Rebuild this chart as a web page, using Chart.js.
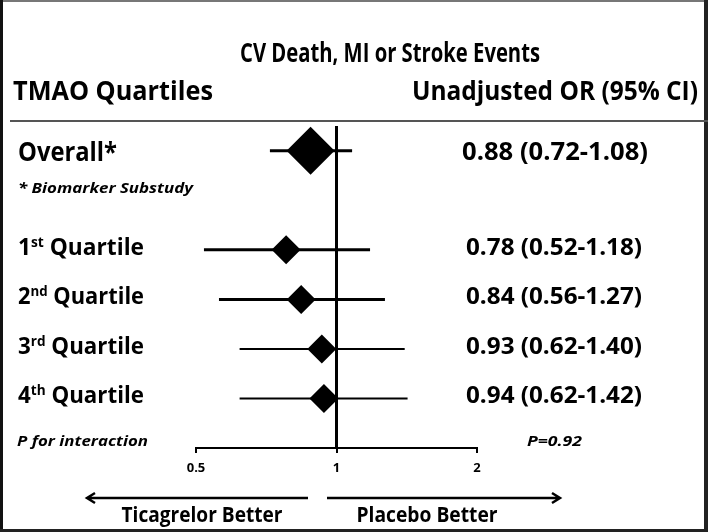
<!DOCTYPE html>
<html>
<head>
<meta charset="utf-8">
<script src="https://cdn.jsdelivr.net/npm/chart.js@4.4.1/dist/chart.umd.min.js"></script>
<style>
  html, body { margin: 0; padding: 0; background: #fff; }
  canvas { display: block; }
</style>
</head>
<body>
<canvas id="forestChart" width="708" height="532"></canvas>
<script>
// values
const rowLabels = ['Overall*', '1st Quartile', '2nd Quartile', '3rd Quartile', '4th Quartile'];
const rowPos = [0, 2, 3, 4, 5];
const oddsRatio = [0.88, 0.78, 0.84, 0.93, 0.94];
const ciLow = [0.72, 0.52, 0.56, 0.62, 0.62];
const ciHigh = [1.08, 1.18, 1.27, 1.40, 1.42];
const xTicks = [0.5, 1, 2];
const pValue = 'P=0.92';

const FONT = '"Open Sans", sans-serif';

// CI whiskers, one small line dataset per row
const ciSets = rowPos.map((y, i) => ({
  data: [{ x: ciLow[i], y: y }, { x: ciHigh[i], y: y }],
  showLine: true,
  borderColor: '#000',
  borderWidth: i < 3 ? 3 : 2,
  pointRadius: 0,
  order: 2
}));

const refLine = {
  data: [{ x: 1, y: -0.5 }, { x: 1, y: 6 }],
  showLine: true,
  borderColor: '#000',
  borderWidth: 3,
  pointRadius: 0,
  order: 3
};

const diamonds = {
  data: rowPos.map((y, i) => ({ x: oddsRatio[i], y: y })),
  pointStyle: 'rectRot',
  pointRadius: rowPos.map((y, i) => i === 0 ? 24 : 14.5),
  backgroundColor: '#000',
  borderColor: '#000',
  borderWidth: 0,
  order: 0
};

// draws text (with optional superscript parts) squeezed to a given width
function put(ctx, parts, x, y, width, align) {
  ctx.save();
  ctx.fillStyle = '#000';
  ctx.textBaseline = 'alphabetic';
  ctx.textAlign = 'left';
  let w = 0;
  parts.forEach(p => {
    ctx.font = (p.italic ? 'italic ' : '') + 'bold ' + p.size + 'px ' + FONT;
    p.w = ctx.measureText(p.t).width;
    w += p.w;
  });
  const k = width ? width / w : 1;
  const tw = w * k;
  const x0 = align === 'center' ? x - tw / 2 : align === 'right' ? x - tw : x;
  ctx.translate(x0, y);
  ctx.scale(k, 1);
  let cx = 0;
  parts.forEach(p => {
    ctx.font = (p.italic ? 'italic ' : '') + 'bold ' + p.size + 'px ' + FONT;
    ctx.fillText(p.t, cx, -(p.rise || 0));
    cx += p.w;
  });
  ctx.restore();
}

function arrow(ctx, x1, x2, y) {
  const dir = Math.sign(x2 - x1);
  ctx.beginPath();
  ctx.moveTo(x1, y);
  ctx.lineTo(x2, y);
  ctx.moveTo(x2 - dir * 8, y - 5);
  ctx.lineTo(x2, y);
  ctx.lineTo(x2 - dir * 8, y + 5);
  ctx.stroke();
}

const decor = {
  id: 'decor',
  afterDraw(chart) {
    const ctx = chart.ctx;
    const ys = chart.scales.y;

    // frame
    ctx.save();
    ctx.fillStyle = '#777';
    ctx.fillRect(0, 0, 708, 2);
    ctx.fillStyle = '#111';
    ctx.fillRect(0, 0, 3, 532);
    ctx.fillStyle = '#222';
    ctx.fillRect(704, 0, 4, 532);
    ctx.fillRect(0, 529, 708, 3);
    // header separator
    ctx.fillStyle = '#555';
    ctx.fillRect(10, 120, 698, 2);
    ctx.restore();

    put(ctx, [{ t: 'CV Death, MI or Stroke Events', size: 26 }], 390, 62, 300, 'center');
    put(ctx, [{ t: 'TMAO Quartiles', size: 27 }], 13, 100, 200, 'left');
    put(ctx, [{ t: 'Unadjusted OR (95% CI)', size: 27 }], 698, 100, 286, 'right');

    rowLabels.forEach((lab, i) => {
      const py = ys.getPixelForValue(rowPos[i]);
      const val = oddsRatio[i].toFixed(2) + ' (' + ciLow[i].toFixed(2) + '-' + ciHigh[i].toFixed(2) + ')';
      const m = lab.match(/^(\d)(st|nd|rd|th)( .*)$/);
      if (m) {
        put(ctx, [
          { t: m[1], size: 23 },
          { t: m[2], size: 14, rise: 8 },
          { t: m[3], size: 23 }
        ], 18, py + 5, 126, 'left');
        put(ctx, [{ t: val, size: 23 }], 554, py + 5, 176, 'center');
      } else {
        put(ctx, [{ t: lab, size: 27 }], 18, py + 10, 99, 'left');
        put(ctx, [{ t: val, size: 25 }], 555, py + 9, 186, 'center');
      }
    });

    put(ctx, [{ t: '* Biomarker Substudy', size: 15, italic: true }], 18, 193, 175, 'left');
    put(ctx, [{ t: 'P for interaction', size: 15, italic: true }], 17, 446, 131, 'left');
    put(ctx, [{ t: pValue, size: 15, italic: true }], 527, 446, 55, 'left');

    ctx.save();
    ctx.strokeStyle = '#000';
    ctx.lineWidth = 2.5;
    arrow(ctx, 308, 87, 498);
    arrow(ctx, 327, 560, 498);
    ctx.restore();

    put(ctx, [{ t: 'Ticagrelor Better', size: 21 }], 202, 522, 161, 'center');
    put(ctx, [{ t: 'Placebo Better', size: 21 }], 427, 522, 141, 'center');
  }
};

new Chart(document.getElementById('forestChart').getContext('2d'), {
  type: 'scatter',
  data: { datasets: [diamonds, refLine].concat(ciSets) },
  options: {
    responsive: false,
    animation: false,
    layout: { padding: { left: 196, right: 231, top: 126, bottom: 52 } },
    plugins: { legend: { display: false }, tooltip: { enabled: false } },
    scales: {
      x: {
        type: 'logarithmic',
        min: 0.5,
        max: 2,
        afterBuildTicks: s => { s.ticks = xTicks.map(v => ({ value: v })); },
        afterFit: s => { s.height = 32; },
        ticks: {
          autoSkip: false,
          maxRotation: 0,
          padding: 7,
          color: '#000',
          font: { family: FONT, weight: 'bold', size: 13 },
          callback: v => String(v)
        },
        grid: { drawOnChartArea: false, drawTicks: true, tickLength: 5, color: '#000', lineWidth: 2 },
        border: { display: true, color: '#000', width: 2 }
      },
      y: {
        type: 'linear',
        reverse: true,
        min: -0.5,
        max: 6,
        display: false
      }
    }
  },
  plugins: [decor]
});
</script>
</body>
</html>
